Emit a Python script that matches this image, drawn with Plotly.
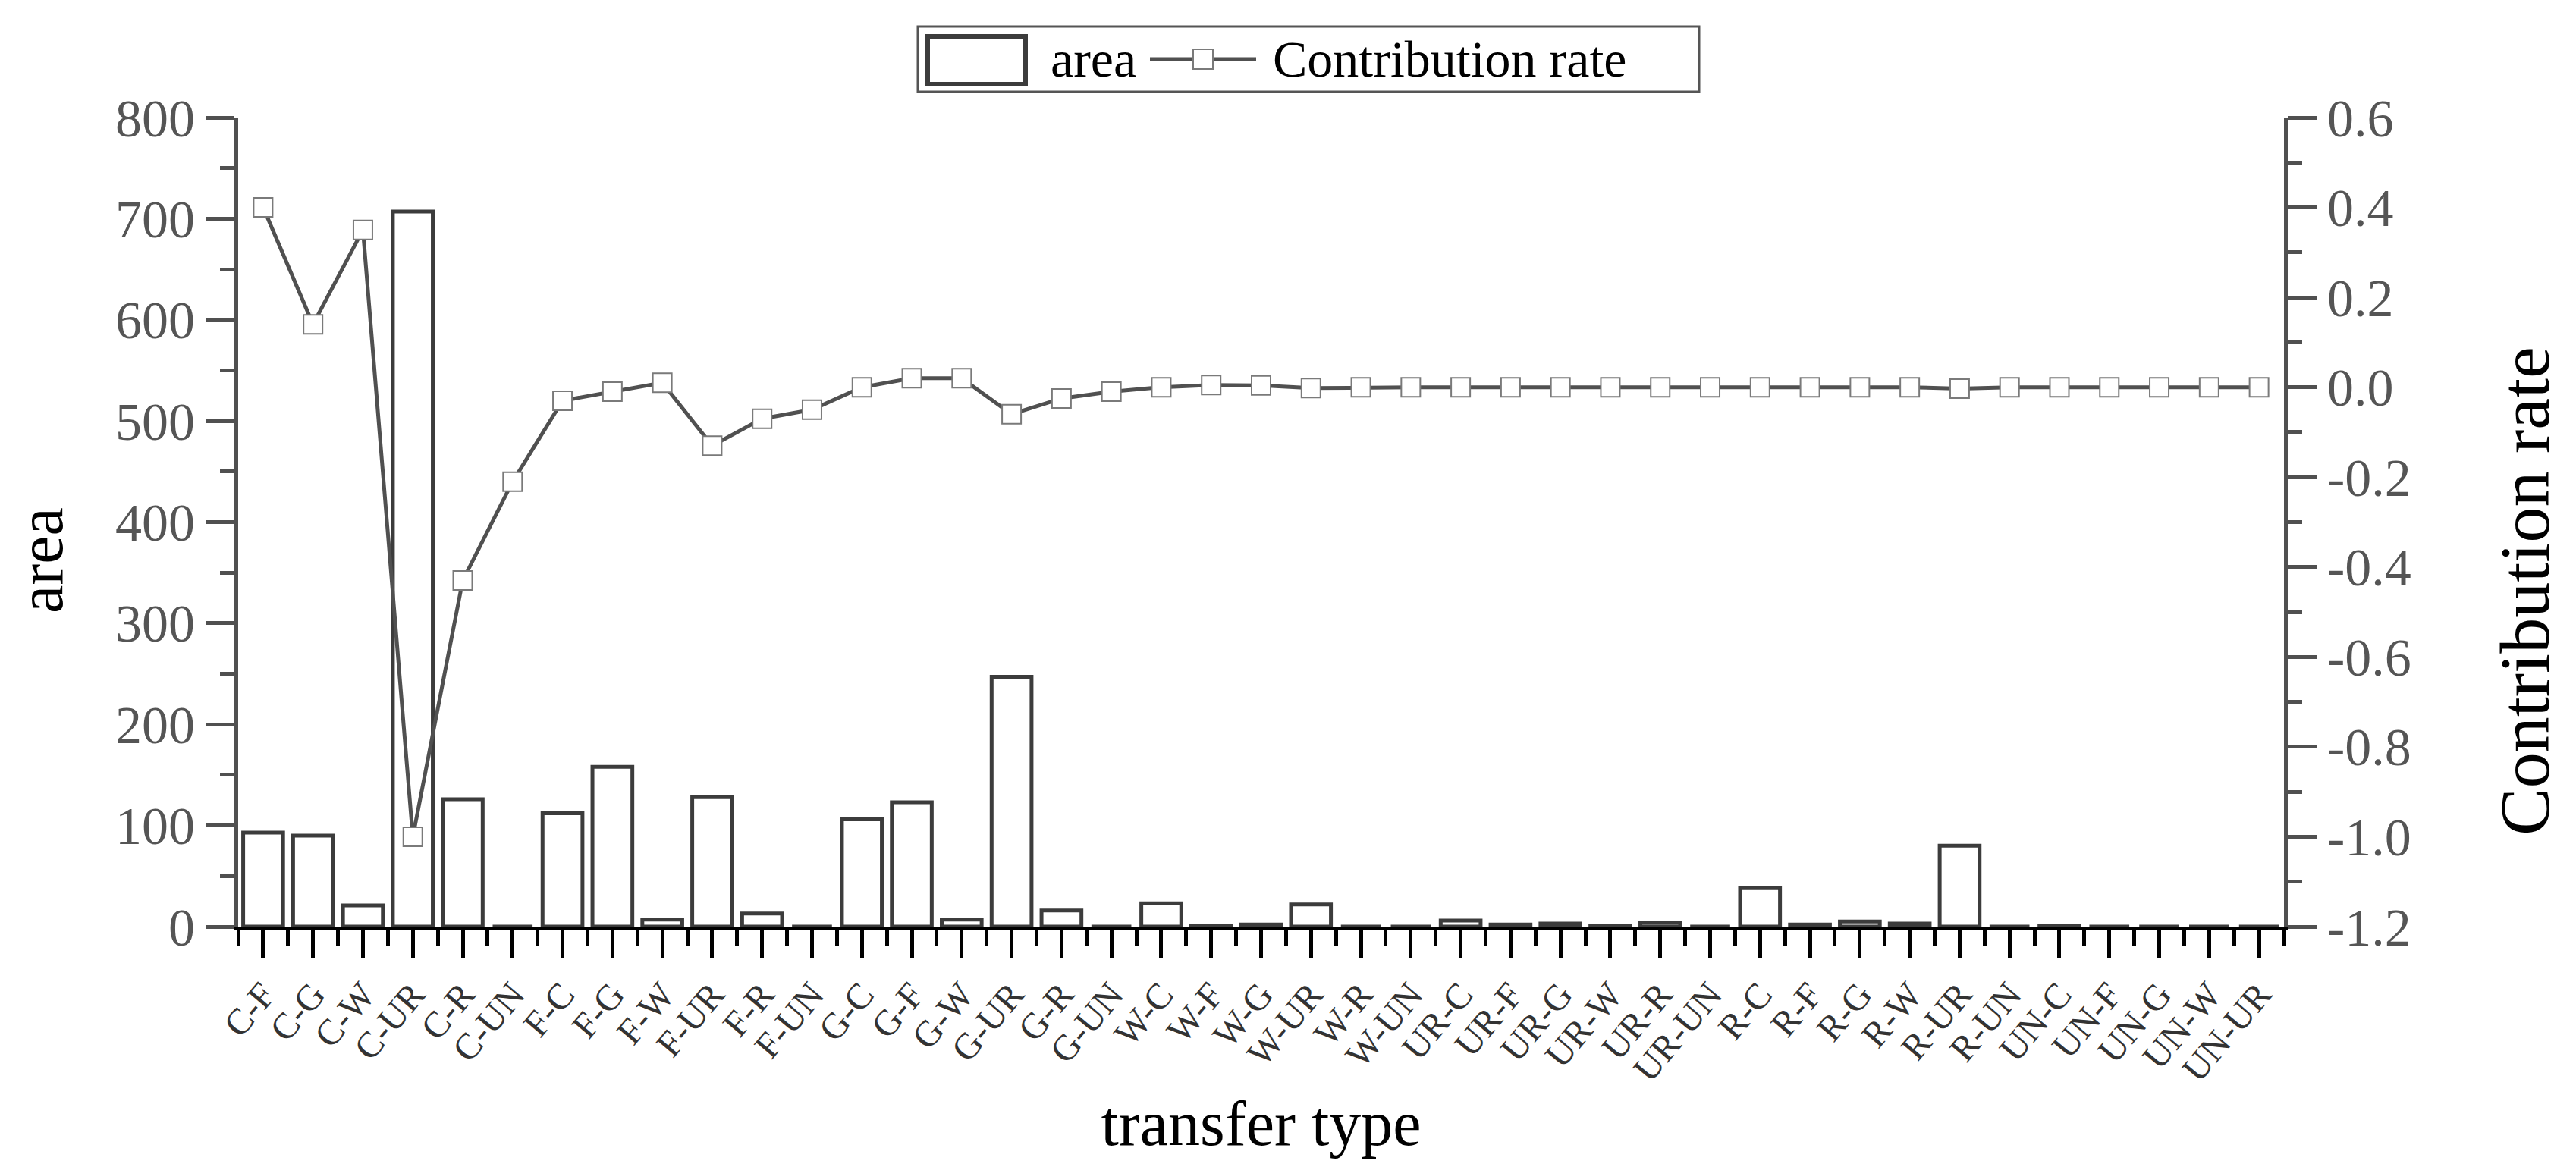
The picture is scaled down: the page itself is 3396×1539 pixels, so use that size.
import plotly.graph_objects as go

categories = ["C-F", "C-G", "C-W", "C-UR", "C-R", "C-UN",
              "F-C", "F-G", "F-W", "F-UR", "F-R", "F-UN",
              "G-C", "G-F", "G-W", "G-UR", "G-R", "G-UN",
              "W-C", "W-F", "W-G", "W-UR", "W-R", "W-UN",
              "UR-C", "UR-F", "UR-G", "UR-W", "UR-R", "UR-UN",
              "R-C", "R-F", "R-G", "R-W", "R-UR", "R-UN",
              "UN-C", "UN-F", "UN-G", "UN-W", "UN-UR"]

area = [93, 90, 21, 707, 126, 0,
        112, 158, 7, 128, 13, 0,
        106, 123, 7, 247, 16, 0,
        23, 1, 2, 22, 0, 0,
        6, 2, 3, 1, 4, 0,
        38, 2, 5, 3, 80, 0,
        1, 0, 0, 0, 0]

contribution_rate = [0.40, 0.14, 0.35, -1.00, -0.43, -0.21,
                     -0.03, -0.01, 0.01, -0.13, -0.07, -0.05,
                     0.00, 0.02, 0.02, -0.06, -0.025, -0.01,
                     0.0, 0.005, 0.004, -0.002, 0.0, 0.0,
                     0.0, 0.0, 0.0, 0.0, 0.0, 0.0,
                     0.0, 0.0, 0.0, 0.0, -0.003, 0.0,
                     0.0, 0.0, 0.0, 0.0, 0.0]

area_ticks = [0, 100, 200, 300, 400, 500, 600, 700, 800]
rate_ticks = [-1.2, -1.0, -0.8, -0.6, -0.4, -0.2, 0.0, 0.2, 0.4, 0.6]
rate_minor = [-1.1, -0.9, -0.7, -0.5, -0.3, -0.1, 0.1, 0.3, 0.5]

W, H = 3396, 1539
L, R, T, B = 314, 385, 155, 317
PW, PH = W - L - R, H - T - B

SERIF = "Liberation Serif"
AX = "#505050"

xpos = list(range(len(categories)))

fig = go.Figure()
fig.add_trace(go.Bar(
    x=xpos, y=area, name="area", width=0.8,
    marker=dict(color="white", line=dict(color="#3c3c3c", width=5)),
    yaxis="y", showlegend=False))
fig.add_trace(go.Scatter(
    x=xpos, y=contribution_rate, name="Contribution rate", mode="lines+markers",
    line=dict(color="#505050", width=5),
    marker=dict(symbol="square", size=25, color="white",
                line=dict(color="#7a7a7a", width=2)),
    yaxis="y2", showlegend=False, cliponaxis=False))

fig.update_layout(
    width=W, height=H,
    margin=dict(l=L, r=R, t=T, b=B),
    paper_bgcolor="white", plot_bgcolor="white",
    font=dict(family=SERIF, color="black"),
    xaxis=dict(
        range=[-0.5, len(categories) - 0.5],
        tickmode="array", tickvals=xpos, ticktext=categories,
        tickangle=-50, tickfont=dict(family=SERIF, size=48, color="#333333"),
        ticks="outside", ticklen=37, tickwidth=5, tickcolor="black",
        minor=dict(tickmode="array",
                   tickvals=[i - 0.5 for i in range(len(categories) + 1)],
                   ticks="outside", ticklen=20, tickwidth=5, tickcolor="black"),
        showline=True, linecolor="black", linewidth=5, layer="above traces",
        showgrid=False, zeroline=False,
        title=dict(text="transfer type", font=dict(family=SERIF, size=84, color="black"),
                   standoff=18),
    ),
    yaxis=dict(
        range=[0, 800], tickmode="array", tickvals=area_ticks,
        tickfont=dict(family=SERIF, size=70, color="#555555"),
        ticks="outside", ticklen=38, tickwidth=5, tickcolor=AX,
        minor=dict(dtick=50, tick0=0, ticks="outside", ticklen=19, tickwidth=5, tickcolor=AX),
        showline=True, linecolor=AX, linewidth=5,
        showgrid=False, zeroline=False,
    ),
    yaxis2=dict(
        range=[-1.2, 0.6], overlaying="y", side="right",
        tickmode="array", tickvals=rate_ticks, ticktext=[f"{v:.1f}" for v in rate_ticks],
        tickfont=dict(family=SERIF, size=70, color="#555555"),
        ticks="outside", ticklen=38, tickwidth=5, tickcolor=AX,
        minor=dict(tickmode="array", tickvals=rate_minor, ticks="outside",
                   ticklen=19, tickwidth=5, tickcolor=AX),
        showline=True, linecolor=AX, linewidth=5,
        showgrid=False, zeroline=False,
    ),
)

# ---- hand-built legend and axis titles (layout decoration) ----
def px(x):
    return (x - L) / PW

def py(y):
    return (H - B - y) / PH

leg_y = 78
shapes = [
    dict(type="rect", xref="paper", yref="paper", x0=px(1210), x1=px(2240),
         y0=py(121), y1=py(35), line=dict(color="#555555", width=3), fillcolor="white"),
    dict(type="rect", xref="paper", yref="paper", x0=px(1223), x1=px(1352),
         y0=py(111), y1=py(48), line=dict(color="#3c3c3c", width=6), fillcolor="white"),
    dict(type="line", xref="paper", yref="paper", x0=px(1516), x1=px(1656),
         y0=py(leg_y), y1=py(leg_y), line=dict(color="#505050", width=5)),
    dict(type="rect", xref="paper", yref="paper", xsizemode="pixel", ysizemode="pixel",
         xanchor=px(1586), yanchor=py(leg_y), x0=-13, x1=13, y0=-13, y1=13,
         line=dict(color="#7a7a7a", width=2), fillcolor="white"),
]
annotations = [
    dict(text="area", xref="paper", yref="paper", x=px(1383), y=py(leg_y),
         xanchor="left", yanchor="middle", showarrow=False,
         font=dict(family=SERIF, size=68, color="black")),
    dict(text="Contribution rate", xref="paper", yref="paper", x=px(1676), y=py(leg_y),
         xanchor="left", yanchor="middle", showarrow=False,
         font=dict(family=SERIF, size=68, color="black")),
    dict(text="area", xref="paper", yref="paper", x=px(54), y=py(739),
         xanchor="center", yanchor="middle", textangle=-90, showarrow=False,
         font=dict(family=SERIF, size=84, color="black")),
    dict(text="Contribution rate", xref="paper", yref="paper", x=px(3328), y=py(780),
         xanchor="center", yanchor="middle", textangle=-90, showarrow=False,
         font=dict(family=SERIF, size=94, color="black")),
]
fig.update_layout(shapes=shapes, annotations=annotations)

fig.write_html("out.html", config={"displayModeBar": False},
               post_script="document.body.style.margin='0';")
